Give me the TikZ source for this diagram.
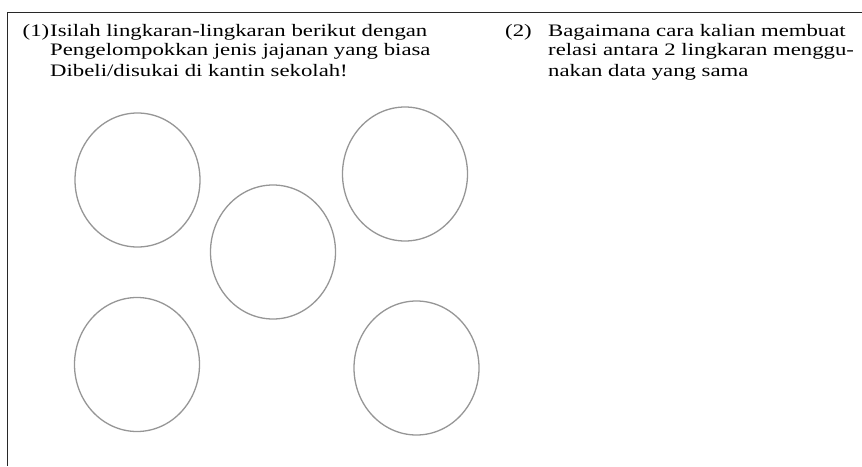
\documentclass[tikz,border=0pt]{standalone}
\usepackage{fontspec}
\setmainfont{Liberation Serif}[FakeStretch=1.3]
\usetikzlibrary{positioning, shapes.geometric}
\definecolor{gray1}{RGB}{150, 150, 150}
\definecolor{frame1}{RGB}{40, 40, 40}

\begin{document}
\begin{tikzpicture}[
    x=1pt, y=-1pt,
    ring/.style={
      ellipse, draw=gray1, line width=1.3pt,
      minimum width=125pt, minimum height=134pt, inner sep=0pt
    },
    task/.style={
      font=\fontsize{17.5}{20.5}\selectfont, align=left,
      inner sep=0pt, anchor=base west
    },
    border/.style={line width=1.4pt, frame1},
  ]
  \useasboundingbox (0, 0) rectangle (862, 466);

  % Frame
  \draw[border] (862, 12.5) -- (7.5, 12.5) -- (7.5, 466);

  % Tasks
  \node[task] (n1) at (22.5, 36) {(1)};
  \node[task] (t1) at (50, 36) {Isilah lingkaran-lingkaran berikut dengan};
  \node[task, below=3.5pt of t1.south west, anchor=north west] (t1b) {Pengelompokkan jenis jajanan yang biasa\\Dibeli/disukai di kantin sekolah!};

  \node[task] (n2) at (505, 36) {(2)};
  \node[task] (t2) at (548, 36) {Bagaimana cara kalian membuat};
  \node[task, below=3.5pt of t2.south west, anchor=north west] (t2b) {relasi antara 2 lingkaran menggu-\\nakan data yang sama};

  % Circles
  \node[ring] (c1) at (137.5, 180) {};
  \node[ring] (c2) at (405, 174) {};
  \node[ring] (c3) at (273, 252) {};
  \node[ring] (c4) at (137, 364.5) {};
  \node[ring] (c5) at (416.5, 368) {};

\end{tikzpicture}
\end{document}
